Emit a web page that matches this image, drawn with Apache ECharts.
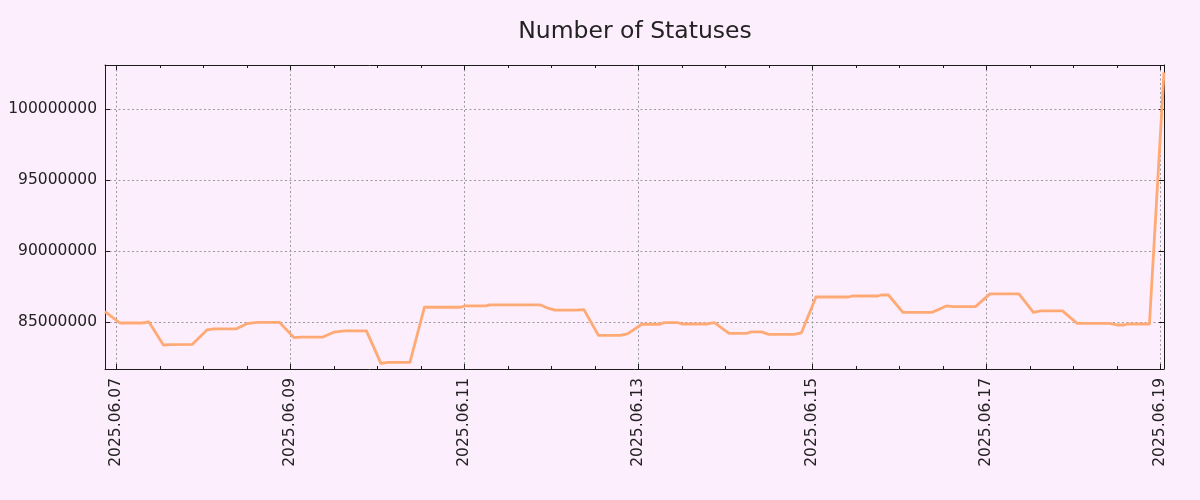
<!DOCTYPE html>
<html>
<head>
<meta charset="utf-8">
<script src="https://cdn.jsdelivr.net/npm/echarts@6/dist/echarts.min.js"></script>
<style>
html,body{margin:0;padding:0;background:#fdeefd;}
#chart{width:1200px;height:500px;}
</style>
</head>
<body>
<div id="chart"></div>
<script>
// ---- data ----
const times = [
  '2025-06-06 20:53','2025-06-07 01:00','2025-06-07 07:00','2025-06-07 09:00','2025-06-07 13:00',
  '2025-06-07 15:00','2025-06-07 21:00','2025-06-08 01:00','2025-06-08 03:00','2025-06-08 09:00',
  '2025-06-08 12:00','2025-06-08 15:00','2025-06-08 21:00','2025-06-09 01:00','2025-06-09 03:00',
  '2025-06-09 09:00','2025-06-09 12:00','2025-06-09 15:00','2025-06-09 21:00','2025-06-10 01:00',
  '2025-06-10 03:00','2025-06-10 09:00','2025-06-10 13:00','2025-06-10 23:00','2025-06-11 00:00',
  '2025-06-11 06:00','2025-06-11 07:00','2025-06-11 21:00','2025-06-11 23:00','2025-06-12 01:00',
  '2025-06-12 07:00','2025-06-12 09:00','2025-06-12 13:00','2025-06-12 19:00','2025-06-12 21:00',
  '2025-06-13 01:00','2025-06-13 06:00','2025-06-13 07:00','2025-06-13 11:00','2025-06-13 12:00',
  '2025-06-13 19:00','2025-06-13 21:00','2025-06-14 01:00','2025-06-14 06:00','2025-06-14 07:00',
  '2025-06-14 10:00','2025-06-14 12:00','2025-06-14 19:00','2025-06-14 21:00','2025-06-15 01:00',
  '2025-06-15 10:00','2025-06-15 11:00','2025-06-15 18:00','2025-06-15 19:00','2025-06-15 21:00',
  '2025-06-16 01:00','2025-06-16 09:00','2025-06-16 13:00','2025-06-16 15:00','2025-06-16 21:00',
  '2025-06-17 01:00','2025-06-17 09:00','2025-06-17 13:00','2025-06-17 15:00','2025-06-17 21:00',
  '2025-06-18 01:00','2025-06-18 10:00','2025-06-18 12:00','2025-06-18 14:00','2025-06-18 15:00',
  '2025-06-18 21:00','2025-06-19 01:01'
];
const statuses = [
  85750000,84950000,84950000,85020000,83400000,
  83420000,83450000,84460000,84530000,84530000,
  84900000,85000000,85000000,83920000,83960000,
  83960000,84300000,84390000,84390000,82110000,
  82180000,82180000,86060000,86060000,86150000,
  86150000,86220000,86220000,86000000,85850000,
  85850000,85890000,84080000,84080000,84180000,
  84860000,84860000,84970000,84970000,84880000,
  84880000,84970000,84220000,84220000,84320000,
  84320000,84150000,84150000,84260000,86780000,
  86780000,86850000,86850000,86920000,86920000,
  85700000,85700000,86150000,86100000,86100000,
  87000000,87000000,85700000,85800000,85800000,
  84930000,84930000,84810000,84810000,84880000,
  84880000,102600000
];
const xTickDates = ['2025-06-07','2025-06-09','2025-06-11','2025-06-13','2025-06-15','2025-06-17','2025-06-19'];
const yTicks = [85000000, 90000000, 95000000, 100000000];
const yMin = 81710000, yMax = 103120000;

// ---- helpers ----
function ts(s){
  const [d, t] = s.split(' ');
  const [Y, M, D] = d.split('-').map(Number);
  const [h, m] = (t || '00:00').split(':').map(Number);
  return Date.UTC(Y, M - 1, D, h, m);
}
function pad(n){ return (n < 10 ? '0' : '') + n; }
function fmtDate(v){
  const d = new Date(v);
  return d.getUTCFullYear() + '.' + pad(d.getUTCMonth() + 1) + '.' + pad(d.getUTCDate());
}
const xs = times.map(ts);
const xMin = xs[0], xMax = xs[xs.length - 1];
const majorX = xTickDates.map(ts);
const minorX = [];
for (let t = ts('2025-06-07'); t <= xMax; t += 12 * 3600000) minorX.push(t);
const seriesData = xs.map((x, i) => [x, statuses[i]]);

const FONT = 'DejaVu Sans';
const TXT = '#222222';
const AX = '#1a1a1a';
const gridLine = { show: true, lineStyle: { color: '#9a9a9a', width: 1, type: [2, 2.5] } };

function xAxisDef(pos, major, withLabels){
  return {
    type: 'value', position: pos, min: xMin, max: xMax,
    axisLine: { show: major, onZero: false, lineStyle: { color: AX, width: 1 } },
    axisTick: { show: true, inside: true, length: major ? 5 : 3, customValues: major ? majorX : minorX,
                lineStyle: { color: AX, width: 1 } },
    axisLabel: withLabels ? {
      show: true, customValues: majorX, rotate: 90, margin: 9, formatter: fmtDate,
      padding: [0, 0, 5, 0],
      fontFamily: FONT, fontSize: 15.5, color: TXT
    } : { show: false },
    splitLine: withLabels ? gridLine : { show: false }
  };
}
function yAxisDef(pos, withLabels){
  return {
    type: 'value', position: pos, min: yMin, max: yMax,
    axisLine: { show: true, onZero: false, lineStyle: { color: AX, width: 1 } },
    axisTick: { show: true, inside: true, length: 5, customValues: yTicks, lineStyle: { color: AX, width: 1 } },
    axisLabel: withLabels ? {
      show: true, customValues: yTicks, margin: 8, formatter: v => String(v),
      fontFamily: FONT, fontSize: 15.5, color: TXT
    } : { show: false },
    splitLine: withLabels ? gridLine : { show: false }
  };
}

const chart = echarts.init(document.getElementById('chart'), null, { renderer: 'canvas' });
chart.setOption({
  backgroundColor: '#fdeefd',
  animation: false,
  title: {
    text: 'Number of Statuses', left: 635, top: 20, textAlign: 'center', padding: 0,
    textStyle: { fontFamily: FONT, fontSize: 23.5, fontWeight: 'normal', color: TXT }
  },
  grid: { left: 105, right: 36, top: 65, bottom: 131, containLabel: false },
  xAxis: [
    xAxisDef('bottom', true, true),
    xAxisDef('bottom', false, false),
    xAxisDef('top', true, false),
    xAxisDef('top', false, false)
  ],
  yAxis: [
    yAxisDef('left', true),
    yAxisDef('right', false)
  ],
  series: [{
    type: 'line', xAxisIndex: 0, yAxisIndex: 0, data: seriesData,
    showSymbol: false, clip: false,
    lineStyle: { color: '#ffaa74', width: 2.8, join: 'round' }
  }]
});
</script>
</body>
</html>
